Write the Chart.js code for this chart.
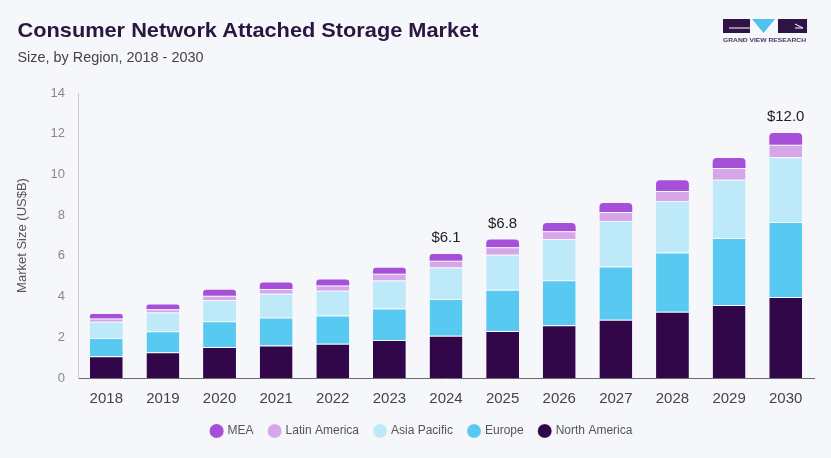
<!DOCTYPE html>
<html>
<head>
<meta charset="utf-8">
<script src="https://cdn.jsdelivr.net/npm/chart.js@4.4.1/dist/chart.umd.min.js"></script>
<style>
  html, body { margin: 0; padding: 0; background: #F5F7FB; }
  body { width: 831px; height: 458px; position: relative; overflow: hidden; font-family: "Liberation Sans", Arial, sans-serif; }
  #wrap { position: absolute; left: 0; top: 0; width: 831px; height: 458px; }
  #hdr { position: absolute; left: 0; top: 0; }
</style>
</head>
<body>
<div id="wrap"><canvas id="c" width="831" height="458"></canvas></div>
<svg id="hdr" width="831" height="75" xmlns="http://www.w3.org/2000/svg">
  <text x="17.5" y="36.5" font-family="Liberation Sans, Arial, sans-serif" font-weight="bold" font-size="21" fill="#2A1740" textLength="461" lengthAdjust="spacingAndGlyphs">Consumer Network Attached Storage Market</text>
  <text x="17.5" y="61.5" font-family="Liberation Sans, Arial, sans-serif" font-size="14" fill="#444444" textLength="186" lengthAdjust="spacingAndGlyphs">Size, by Region, 2018 - 2030</text>
  <rect x="723" y="19" width="27" height="14" fill="#2E1447"/>
  <line x1="729" y1="28" x2="750" y2="28" stroke="#ffffff" stroke-width="1"/>
  <polygon points="752,19 775,19 763.5,33" fill="#4FC3EE"/>
  <rect x="778" y="19" width="29" height="14" fill="#2E1447"/>
  <line x1="795" y1="24" x2="803" y2="28" stroke="#ffffff" stroke-width="1"/>
  <line x1="795" y1="28" x2="803" y2="28" stroke="#ffffff" stroke-width="1"/>
  <text x="723" y="42" font-family="Liberation Sans, Arial, sans-serif" font-size="5" font-weight="bold" fill="#4A3A5E" textLength="83" lengthAdjust="spacingAndGlyphs">GRAND VIEW RESEARCH</text>
</svg>
<script>
const years = ["2018","2019","2020","2021","2022","2023","2024","2025","2026","2027","2028","2029","2030"];
const northAmerica = [1.07, 1.27, 1.52, 1.60, 1.68, 1.87, 2.08, 2.31, 2.59, 2.86, 3.25, 3.58, 3.98];
const europe       = [0.90, 1.03, 1.27, 1.37, 1.39, 1.55, 1.80, 2.02, 2.21, 2.62, 2.92, 3.30, 3.68];
const asiaPacific  = [0.79, 0.92, 1.04, 1.17, 1.22, 1.37, 1.55, 1.73, 2.03, 2.23, 2.53, 2.86, 3.18];
const latinAmerica = [0.16, 0.16, 0.21, 0.23, 0.26, 0.33, 0.33, 0.36, 0.38, 0.44, 0.48, 0.58, 0.62];
const mea          = [0.22, 0.23, 0.30, 0.32, 0.29, 0.29, 0.33, 0.38, 0.40, 0.45, 0.54, 0.49, 0.57];
const totalLabels  = ["", "", "", "", "", "", "$6.1", "$6.8", "", "", "", "", "$12.0"];
const yTicks = [0, 2, 4, 6, 8, 10, 12, 14];

const FONT = "'Liberation Sans', Arial, sans-serif";
const sep = '#F5F7FB';

const totalsPlugin = {
  id: 'totals',
  afterDatasetsDraw(chart) {
    const ctx = chart.ctx;
    const meta = chart.getDatasetMeta(chart.data.datasets.length - 1);
    ctx.save();
    ctx.font = '15px ' + FONT;
    ctx.fillStyle = '#222222';
    ctx.textAlign = 'center';
    ctx.textBaseline = 'middle';
    totalLabels.forEach((t, i) => {
      if (!t) return;
      const el = meta.data[i];
      ctx.fillText(t, el.x, el.y - 16);
    });
    ctx.restore();
  }
};

const legendShift = {
  id: 'legendShift',
  afterLayout(chart) {
    const lg = chart.legend;
    if (lg) { lg.left += 15; lg.right += 15; }
  }
};

const seg = (label, data, color, top) => ({
  label, data,
  backgroundColor: color,
  borderColor: sep,
  borderWidth: top ? 0 : { top: 1, left: 0, right: 0, bottom: 0 },
  borderSkipped: 'start',
  borderRadius: top ? { topLeft: 4, topRight: 4, bottomLeft: 0, bottomRight: 0 } : 0,
  barPercentage: 0.58,
  categoryPercentage: 1.0
});

new Chart(document.getElementById('c'), {
  type: 'bar',
  data: {
    labels: years,
    datasets: [
      seg('North America', northAmerica, '#32074A', false),
      seg('Europe', europe, '#58C9F1', false),
      seg('Asia Pacific', asiaPacific, '#BEE9F9', false),
      seg('Latin America', latinAmerica, '#D7A6EA', false),
      seg('MEA', mea, '#A650DA', true)
    ]
  },
  options: {
    responsive: false,
    animation: false,
    layout: { padding: { top: 93, left: 0, right: 17, bottom: 11 } },
    plugins: {
      legend: {
        position: 'bottom',
        reverse: true,
        labels: {
          usePointStyle: true,
          pointStyle: 'circle',
          boxWidth: 10,
          boxHeight: 10,
          padding: 16,
          color: '#555555',
          font: { size: 12, family: FONT }
        }
      },
      tooltip: { enabled: false },
      title: { display: false }
    },
    scales: {
      x: {
        stacked: true,
        grid: { display: false, drawTicks: false },
        border: { display: true, color: '#6B6B6B', width: 1 },
        ticks: { color: '#444444', font: { size: 15, family: FONT }, padding: 12 },
        afterFit(s) { s.height = 31; }
      },
      y: {
        stacked: true,
        min: 0, max: 14,
        afterBuildTicks(s) { s.ticks = yTicks.map(v => ({ value: v })); },
        grid: { display: false, drawTicks: false },
        border: { display: true, color: '#CCCCCC', width: 1 },
        ticks: { color: '#888888', font: { size: 13, family: FONT }, padding: 13 },
        title: { display: true, text: 'Market Size (US$B)', color: '#555555', font: { size: 13, family: FONT }, padding: { top: 15, bottom: 0 } },
        afterFit(s) { s.width = 78; }
      }
    }
  },
  plugins: [totalsPlugin, legendShift]
});
</script>
</body>
</html>
